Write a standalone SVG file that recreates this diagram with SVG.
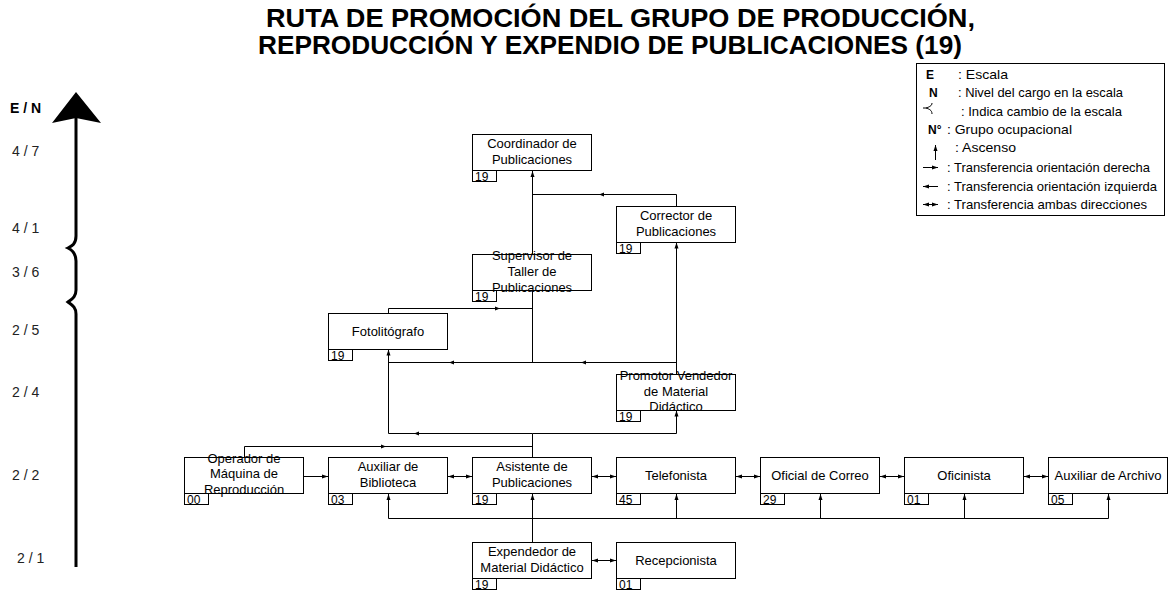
<svg xmlns="http://www.w3.org/2000/svg" width="1171" height="595" viewBox="0 0 1171 595">
<style>
text{font-family:"Liberation Sans",Arial,sans-serif;fill:#000}
.title{font-size:25px;font-weight:bold}
.ax{font-size:14px;fill:#222}
.axb{font-size:14px;font-weight:bold}
.lg{font-size:13px}
.lgb{font-size:12px;font-weight:bold}
.lbl{font-size:13px;text-anchor:middle}
.num{font-size:12px}
.box,.tab{fill:none;stroke:#000;stroke-width:1}
.c{fill:none;stroke:#000;stroke-width:1}
.ce{fill:none;stroke:#000;stroke-width:1;marker-end:url(#ah)}
.cb{fill:none;stroke:#000;stroke-width:1;marker-start:url(#ah);marker-end:url(#ah)}
.cm{fill:none;stroke:#000;stroke-width:1;marker-end:url(#am)}
</style>
<defs>
<marker id="ah" viewBox="0 0 6 6" refX="6" refY="3" markerWidth="6" markerHeight="6" markerUnits="userSpaceOnUse" orient="auto-start-reverse"><path d="M0,1 L6,3 L0,5 z" fill="#000"/></marker>
<marker id="am" viewBox="0 0 6 6" refX="3" refY="3" markerWidth="6" markerHeight="6" markerUnits="userSpaceOnUse" orient="auto"><path d="M0,1 L5,3 L0,5 z" fill="#000"/></marker>
</defs>
<rect x="0" y="0" width="1171" height="595" fill="#fff"/>

<g id="title">
<text class="title" x="266" y="27" textLength="709" lengthAdjust="spacingAndGlyphs">RUTA DE PROMOCIÓN DEL GRUPO DE PRODUCCIÓN,</text>
<text class="title" x="258" y="54" textLength="704" lengthAdjust="spacingAndGlyphs">REPRODUCCIÓN Y EXPENDIO DE PUBLICACIONES (19)</text>
</g>

<g id="axis">
<polygon points="76,92 52,123 76,118 101,123" fill="#000"/>
<path d="M76,116 V236 C76,244 72,246 68,248 C72,250 76,253 76,261 V290 C76,297 72,299 68,302 C72,305 76,307 76,314 V567" fill="none" stroke="#000" stroke-width="3"/>
<text class="axb" x="10" y="113">E / N</text>
<text class="ax" x="12" y="156">4 / 7</text>
<text class="ax" x="12" y="233">4 / 1</text>
<text class="ax" x="12" y="277">3 / 6</text>
<text class="ax" x="12" y="335">2 / 5</text>
<text class="ax" x="12" y="397">2 / 4</text>
<text class="ax" x="12" y="480">2 / 2</text>
<text class="ax" x="17" y="563">2 / 1</text>
</g>

<g id="legend">
<rect x="916.5" y="63.5" width="248" height="152" fill="none" stroke="#000"/>
<text class="lgb" x="926" y="79">E</text>
<text class="lg" x="958" y="79" textLength="50" lengthAdjust="spacingAndGlyphs">: Escala</text>
<text class="lgb" x="929" y="97">N</text>
<text class="lg" x="958" y="97" textLength="165" lengthAdjust="spacingAndGlyphs">: Nivel del cargo en la escala</text>
<path d="M932,103 C932,106 929,107 926,108 C929,109 932,110 932,114 M926,108 H923" fill="none" stroke="#000"/>
<text class="lg" x="961" y="115.5" textLength="161" lengthAdjust="spacingAndGlyphs">: Indica cambio de la escala</text>
<text class="lgb" x="928" y="134">N°</text>
<text class="lg" x="947" y="134" textLength="125" lengthAdjust="spacingAndGlyphs">: Grupo ocupacional</text>
<path class="ce" d="M935.5,160 V145"/>
<text class="lg" x="955" y="152" textLength="61" lengthAdjust="spacingAndGlyphs">: Ascenso</text>
<path class="ce" d="M923,167.5 H938"/>
<text class="lg" x="947" y="172" textLength="203" lengthAdjust="spacingAndGlyphs">: Transferencia orientación derecha</text>
<path class="ce" d="M938,186.5 H923"/>
<text class="lg" x="947" y="190.5" textLength="210" lengthAdjust="spacingAndGlyphs">: Transferencia orientación izquierda</text>
<path class="cb" d="M923,204.5 H938"/>
<text class="lg" x="947" y="208.5" textLength="200" lengthAdjust="spacingAndGlyphs">: Transferencia ambas direcciones</text>
</g>

<g id="connectors">
<path class="ce" d="M532.5,254.5 V171"/>
<path class="cm" d="M676.5,206.5 V194.5 H601"/>
<path class="c" d="M601,194.5 H532.5"/>
<path class="cm" d="M388.5,313.5 V308.5 H498"/>
<path class="c" d="M498,308.5 H532.5"/>
<path class="c" d="M532.5,290.5 V362.5"/>
<path class="cm" d="M676.5,362.5 H583"/>
<path class="cm" d="M583,362.5 H451"/>
<path class="c" d="M451,362.5 H388.5"/>
<path class="ce" d="M676.5,374.5 V242.5"/>
<path class="ce" d="M388.5,433.5 V349.5"/>
<path class="cm" d="M532.5,433.5 H416"/>
<path class="c" d="M416,433.5 H388.5"/>
<path class="ce" d="M532.5,433.5 H676.5 V410.5"/>
<path class="c" d="M532.5,457.5 V433.5"/>
<path class="cm" d="M244.5,457.5 V446.5 H384"/>
<path class="c" d="M384,446.5 H532.5"/>
<path class="ce" d="M303.5,476.5 H328"/>
<path class="cb" d="M448,476.5 H472"/>
<path class="cb" d="M592,476.5 H616"/>
<path class="cb" d="M736,476.5 H760"/>
<path class="cb" d="M880,476.5 H904"/>
<path class="cb" d="M1024,476.5 H1048"/>
<path class="c" d="M388.5,518.5 H1108.5"/>
<path class="ce" d="M388.5,518.5 V494"/>
<path class="ce" d="M676.5,518.5 V494"/>
<path class="ce" d="M820.5,518.5 V494"/>
<path class="ce" d="M964.5,518.5 V494"/>
<path class="ce" d="M1108.5,518.5 V494"/>
<path class="ce" d="M532.5,542.5 V494"/>
<path class="cb" d="M592,560.5 H616"/>
</g>

<g id="coordinador">
<rect class="box" x="472.5" y="134.5" width="119" height="36"/>
<text class="lbl"><tspan x="532" y="147.5">Coordinador de</tspan><tspan x="532" y="163.5">Publicaciones</tspan></text>
<rect class="tab" x="472.5" y="170.5" width="24" height="11"/>
<text class="num" x="475" y="180.5">19</text>
</g>
<g id="corrector">
<rect class="box" x="616.5" y="206.5" width="119" height="36"/>
<text class="lbl"><tspan x="676" y="219.5">Corrector de</tspan><tspan x="676" y="235.5">Publicaciones</tspan></text>
<rect class="tab" x="616.5" y="242.5" width="24" height="11"/>
<text class="num" x="619" y="252.5">19</text>
</g>
<g id="supervisor">
<rect class="box" x="472.5" y="254.5" width="119" height="36"/>
<text class="lbl"><tspan x="532" y="260">Supervisor de</tspan><tspan x="532" y="276">Taller de</tspan><tspan x="532" y="292">Publicaciones</tspan></text>
<rect class="tab" x="472.5" y="290.5" width="24" height="11"/>
<text class="num" x="475" y="300.5">19</text>
</g>
<g id="fotolitografo">
<rect class="box" x="328.5" y="313.5" width="119" height="36"/>
<text class="lbl" x="388" y="335.5">Fotolitógrafo</text>
<rect class="tab" x="328.5" y="349.5" width="24" height="11"/>
<text class="num" x="331" y="359.5">19</text>
</g>
<g id="promotor">
<rect class="box" x="616.5" y="374.5" width="119" height="36"/>
<text class="lbl"><tspan x="676" y="380">Promotor Vendedor</tspan><tspan x="676" y="395.5">de Material</tspan><tspan x="676" y="411">Didáctico</tspan></text>
<rect class="tab" x="616.5" y="410.5" width="24" height="11"/>
<text class="num" x="619" y="420.5">19</text>
</g>
<g id="operador">
<rect class="box" x="184.5" y="457.5" width="119" height="36"/>
<text class="lbl"><tspan x="244" y="462.5">Operador de</tspan><tspan x="244" y="478">Máquina de</tspan><tspan x="244" y="493.5">Reproducción</tspan></text>
<rect class="tab" x="184.5" y="493.5" width="24" height="11"/>
<text class="num" x="187" y="503.5">00</text>
</g>
<g id="auxiliar-biblioteca">
<rect class="box" x="328.5" y="457.5" width="119" height="36"/>
<text class="lbl"><tspan x="388" y="470.5">Auxiliar de</tspan><tspan x="388" y="486.5">Biblioteca</tspan></text>
<rect class="tab" x="328.5" y="493.5" width="24" height="11"/>
<text class="num" x="331" y="503.5">03</text>
</g>
<g id="asistente">
<rect class="box" x="472.5" y="457.5" width="119" height="36"/>
<text class="lbl"><tspan x="532" y="470.5">Asistente de</tspan><tspan x="532" y="486.5">Publicaciones</tspan></text>
<rect class="tab" x="472.5" y="493.5" width="24" height="11"/>
<text class="num" x="475" y="503.5">19</text>
</g>
<g id="telefonista">
<rect class="box" x="616.5" y="457.5" width="119" height="36"/>
<text class="lbl" x="676" y="479.5">Telefonista</text>
<rect class="tab" x="616.5" y="493.5" width="24" height="11"/>
<text class="num" x="619" y="503.5">45</text>
</g>
<g id="oficial-correo">
<rect class="box" x="760.5" y="457.5" width="119" height="36"/>
<text class="lbl" x="820" y="479.5">Oficial de Correo</text>
<rect class="tab" x="760.5" y="493.5" width="24" height="11"/>
<text class="num" x="763" y="503.5">29</text>
</g>
<g id="oficinista">
<rect class="box" x="904.5" y="457.5" width="119" height="36"/>
<text class="lbl" x="964" y="479.5">Oficinista</text>
<rect class="tab" x="904.5" y="493.5" width="24" height="11"/>
<text class="num" x="907" y="503.5">01</text>
</g>
<g id="auxiliar-archivo">
<rect class="box" x="1048.5" y="457.5" width="119" height="36"/>
<text class="lbl" x="1108" y="479.5">Auxiliar de Archivo</text>
<rect class="tab" x="1048.5" y="493.5" width="24" height="11"/>
<text class="num" x="1051" y="503.5">05</text>
</g>
<g id="expendedor">
<rect class="box" x="472.5" y="542.5" width="119" height="36"/>
<text class="lbl"><tspan x="532" y="556">Expendedor de</tspan><tspan x="532" y="571.5">Material Didáctico</tspan></text>
<rect class="tab" x="472.5" y="578.5" width="24" height="11"/>
<text class="num" x="475" y="588.5">19</text>
</g>
<g id="recepcionista">
<rect class="box" x="616.5" y="542.5" width="119" height="36"/>
<text class="lbl" x="676" y="564.5">Recepcionista</text>
<rect class="tab" x="616.5" y="578.5" width="24" height="11"/>
<text class="num" x="619" y="588.5">01</text>
</g>
</svg>
